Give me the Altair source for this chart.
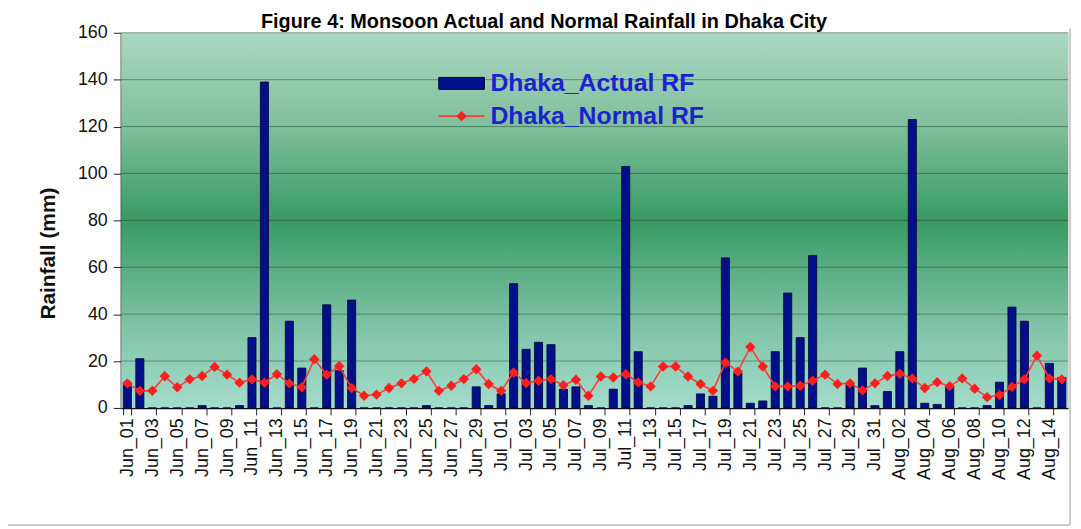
import altair as alt
import pandas as pd

# ---------------- data ----------------
days = ([f"Jun_{d:02d}" for d in range(1, 31)]
        + [f"Jul_{d:02d}" for d in range(1, 32)]
        + [f"Aug_{d:02d}" for d in range(1, 16)])

actual_rf = [
    # Jun 01-30
    10, 21, 0, 0, 0, 0, 1, 0, 0, 1, 30, 139, 0, 37, 17, 0, 44, 16, 46, 0,
    0, 0, 0, 0, 1, 0, 0, 0, 9, 1,
    # Jul 01-31
    6, 53, 25, 28, 27, 8, 9, 1, 0, 8, 103, 24, 0, 0, 0, 1, 6, 5, 64, 15,
    2, 3, 24, 49, 30, 65, 0, 0, 10, 17, 1,
    # Aug 01-15
    7, 24, 123, 2, 1.5, 9, 0, 0, 1, 11, 43, 37, 0, 19, 13,
]

normal_rf = [
    # Jun 01-30
    10.5, 7.3, 7.3, 13.5, 8.8, 12.2, 13.6, 17.5, 14.2, 10.8, 12.2, 10.8, 14.4,
    10.5, 8.8, 20.8, 14.2, 17.8, 8.5, 5.2, 5.7, 8.5, 10.5, 12.4, 15.6, 7.3,
    9.5, 12.3, 16.5, 10.2,
    # Jul 01-31
    7.3, 15.1, 10.6, 11.6, 12.3, 9.7, 12.0, 5.2, 13.4, 13.0, 14.4, 10.9, 9.2,
    17.7, 17.7, 13.4, 10.2, 7.3, 19.4, 15.5, 26.0, 17.7, 9.2, 9.2, 9.5, 11.6,
    14.2, 10.2, 10.5, 7.5, 10.5,
    # Aug 01-15
    13.6, 14.6, 12.6, 8.5, 11.0, 9.3, 12.6, 8.2, 4.6, 5.5, 9.0, 12.2, 22.3,
    12.6, 12.2,
]

y_ticks = [0, 20, 40, 60, 80, 100, 120, 140, 160]
series_names = ["Dhaka_Actual RF", "Dhaka_Normal RF"]
title_text = "Figure 4: Monsoon Actual and Normal Rainfall in Dhaka City"
y_title = "Rainfall (mm)"

df = pd.DataFrame({"day": days, "actual": actual_rf, "normal": normal_rf})

# ---------------- styling ----------------
W, H = 954, 378
FONT = "Liberation Sans"
NAVY = "#00108a"
RED = "#ff1e1e"
LINE_RED = "#ff3a3a"
LEGEND_TXT = "#1c22cc"

xscale = alt.Scale(domain=days, paddingInner=0.35, paddingOuter=0.175)
yscale = alt.Scale(domain=[0, 160], nice=False, zero=True)

xaxis = alt.Axis(
    values=days[::2], labelAngle=-90, labelFontSize=18, labelColor="#111111",
    labelFont=FONT, tickBand="extent", tickSize=7, tickColor="#222222",
    domainColor="#111111", domainWidth=1.5, grid=False, title=None,
    labelPadding=3, labelOverlap=False,
)
yaxis = alt.Axis(
    values=y_ticks, grid=False, tickSize=8, tickColor="#222222",
    labelFontSize=18, labelFont=FONT, labelColor="#111111", labelPadding=6,
    domainColor="#111111", domainWidth=2,
    title=y_title, titleFont=FONT, titleFontSize=21, titleFontWeight="bold",
    titleColor="#111111", titleAngle=270, titleX=-73, titleY=222,
    titleAlign="center", titleBaseline="middle",
)

X = alt.X("day:N", scale=xscale, axis=xaxis, sort=days)

one = pd.DataFrame({"k": [0]})

background = alt.Chart(one).mark_rect(
    fill=alt.Gradient(
        gradient="linear", x1=0, x2=0, y1=0, y2=1,
        stops=[
            alt.GradientStop(color="#acd7c3", offset=0),
            alt.GradientStop(color="#7fbf9c", offset=0.25),
            alt.GradientStop(color="#389a65", offset=0.5),
            alt.GradientStop(color="#7fc3a6", offset=0.78),
            alt.GradientStop(color="#a3dccb", offset=1),
        ],
    )
).encode(x=alt.value(0), x2=alt.value(W), y=alt.value(0), y2=alt.value(H))

grid = alt.Chart(pd.DataFrame({"v": y_ticks[1:]})).mark_rule(
    color="#25352b", opacity=0.45, strokeWidth=1
).encode(y=alt.Y("v:Q", scale=yscale, axis=yaxis))

bars = alt.Chart(df).mark_bar(
    color=NAVY, stroke="#000030", strokeWidth=0.8
).encode(x=X, y=alt.Y("actual:Q", scale=yscale, axis=yaxis))

line = alt.Chart(df).mark_line(color=LINE_RED, strokeWidth=1.6).encode(
    x=X, y=alt.Y("normal:Q", scale=yscale, axis=yaxis)
)

points = alt.Chart(df).mark_point(
    shape="diamond", filled=True, size=110, color=RED, opacity=1
).encode(x=X, y=alt.Y("normal:Q", scale=yscale, axis=yaxis))

# ---------------- legend (inside plot) ----------------
leg1 = pd.DataFrame({"s": [series_names[0]]})
leg2 = pd.DataFrame({"s": [series_names[1]]})

leg_rect = alt.Chart(leg1).mark_rect(color=NAVY, stroke="#000030", strokeWidth=1).encode(
    x=alt.value(320), x2=alt.value(366), y=alt.value(45), y2=alt.value(57)
)
leg_txt1 = alt.Chart(leg1).mark_text(
    align="left", baseline="middle", font=FONT, fontSize=25, fontWeight="bold",
    color=LEGEND_TXT,
).encode(text="s:N", x=alt.value(372), y=alt.value(51))
leg_line = alt.Chart(leg2).mark_rule(color=LINE_RED, strokeWidth=1.6).encode(
    x=alt.value(320), x2=alt.value(366), y=alt.value(84)
)
leg_pt = alt.Chart(leg2).mark_point(
    shape="diamond", filled=True, size=110, color=RED, opacity=1
).encode(x=alt.value(343), y=alt.value(84))
leg_txt2 = alt.Chart(leg2).mark_text(
    align="left", baseline="middle", font=FONT, fontSize=25, fontWeight="bold",
    color=LEGEND_TXT,
).encode(text="s:N", x=alt.value(372), y=alt.value(84))

# ---------------- title and frame ----------------
title = alt.Chart(pd.DataFrame({"t": [title_text]})).mark_text(
    align="center", baseline="alphabetic", font=FONT, fontSize=20,
    fontWeight="bold", color="#000000",
).encode(text="t:N", x=alt.value(426), y=alt.value(-5))

frame_sides = alt.Chart(one).mark_rule(color="#9a9a9a", strokeWidth=1)
frame_left = frame_sides.encode(x=alt.value(-119), y=alt.value(-4), y2=alt.value(496))
frame_right = frame_sides.encode(x=alt.value(956), y=alt.value(-4), y2=alt.value(496))
frame_bottom = frame_sides.encode(x=alt.value(-119), x2=alt.value(956), y=alt.value(496))

chart = alt.layer(
    background, grid, bars, line, points,
    leg_rect, leg_txt1, leg_line, leg_pt, leg_txt2, title,
    frame_left, frame_right, frame_bottom,
).properties(
    width=W, height=H,
    autosize=alt.AutoSizeParams(type="none"),
    padding={"left": 114, "top": 23, "right": 5, "bottom": 120},
).configure_view(stroke=None).configure(background="white")

chart.save("out.html", embed_options={"renderer": "svg", "actions": False})
